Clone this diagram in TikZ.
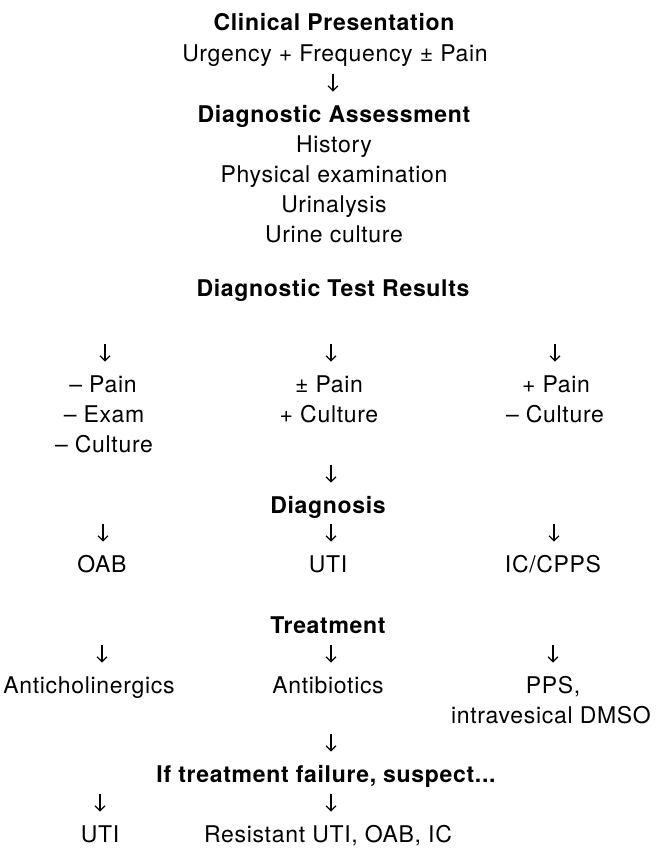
\documentclass[tikz,border=0pt]{standalone}
\usepackage{fontspec}
\setmainfont{TeX Gyre Heros}[LetterSpace=3]
\usepackage{tikz}
\usetikzlibrary{arrows.meta, calc}

\begin{document}
\begin{tikzpicture}[x=0.5pt, y=-0.5pt,
    txt/.style={inner sep=0pt, anchor=base, text height=8pt, text depth=2.5pt, font=\fontsize{11.5}{13}\selectfont},
    hd/.style={txt, font=\fontsize{11.5}{13}\selectfont\bfseries},
    arr/.style={line width=0.6pt, -{Straight Barb[length=2.5pt, width=5pt]}, shorten >=7pt}]
  \useasboundingbox (0,0) rectangle (657,848);

  \node[hd]  (clin)   at (334,30)  {Clinical Presentation};
  \node[txt] (urg)    at (335,61)  {Urgency + Frequency ± Pain};
  \node[hd]  (assess) at (334,122) {Diagnostic Assessment};
  \node[txt] (hist)   at (334,152) {History};
  \node[txt] (phys)   at (334,182) {Physical examination};
  \node[txt] (urin)   at (334,212) {Urinalysis};
  \node[txt] (cult)   at (334,242) {Urine culture};
  \node[hd]  (res)    at (333,296) {Diagnostic Test Results};

  \node[txt] (lpain)  at (103,392) {– Pain};
  \node[txt] (lexam)  at (104,422) {– Exam};
  \node[txt] (lcult)  at (104,452) {– Culture};
  \node[txt] (mpain)  at (329,392) {± Pain};
  \node[txt] (mcult)  at (329,422) {+ Culture};
  \node[txt] (rpain)  at (556,392) {+ Pain};
  \node[txt] (rcult)  at (555,422) {– Culture};

  \node[hd]  (diag)   at (328,513) {Diagnosis};
  \node[txt] (oab)    at (102,572) {OAB};
  \node[txt] (uti)    at (328,572) {UTI};
  \node[txt] (ic)     at (553,572) {IC/CPPS};

  \node[hd]  (treat)  at (328,633) {Treatment};
  \node[txt] (anti)   at (89,693)  {Anticholinergics};
  \node[txt] (abx)    at (328,693) {Antibiotics};
  \node[txt] (pps)    at (553,693) {PPS,};
  \node[txt] (dmso)   at (551,723) {intravesical DMSO};

  \node[hd]  (fail)   at (326,782) {If treatment failure, suspect...};
  \node[txt] (uti2)   at (100,842) {UTI};
  \node[txt] (resist) at (328,842) {Resistant UTI, OAB, IC};

  \coordinate (t1) at (333,74);
  \coordinate (t2) at (105,344);
  \coordinate (t3) at (331,344);
  \coordinate (t4) at (555,344);
  \coordinate (t5) at (331,465);
  \coordinate (t6) at (103,524);
  \coordinate (t7) at (331,524);
  \coordinate (t8) at (554,524);
  \coordinate (t9) at (102,645);
  \coordinate (t10) at (331,645);
  \coordinate (t11) at (553,645);
  \coordinate (t12) at (331,734);
  \coordinate (t13) at (100,794);
  \coordinate (t14) at (331,794);

  \draw[arr] (t1) -- (t1 |- assess.north);
  \draw[arr] (t2) -- (t2 |- lpain.north);
  \draw[arr] (t3) -- (t3 |- mpain.north);
  \draw[arr] (t4) -- (t4 |- rpain.north);
  \draw[arr] (t5) -- (t5 |- diag.north);
  \draw[arr] (t6) -- (t6 |- oab.north);
  \draw[arr] (t7) -- (t7 |- uti.north);
  \draw[arr] (t8) -- (t8 |- ic.north);
  \draw[arr] (t9) -- (t9 |- anti.north);
  \draw[arr] (t10) -- (t10 |- abx.north);
  \draw[arr] (t11) -- (t11 |- pps.north);
  \draw[arr] (t12) -- (t12 |- fail.north);
  \draw[arr] (t13) -- (t13 |- uti2.north);
  \draw[arr] (t14) -- (t14 |- resist.north);
\end{tikzpicture}
\end{document}
